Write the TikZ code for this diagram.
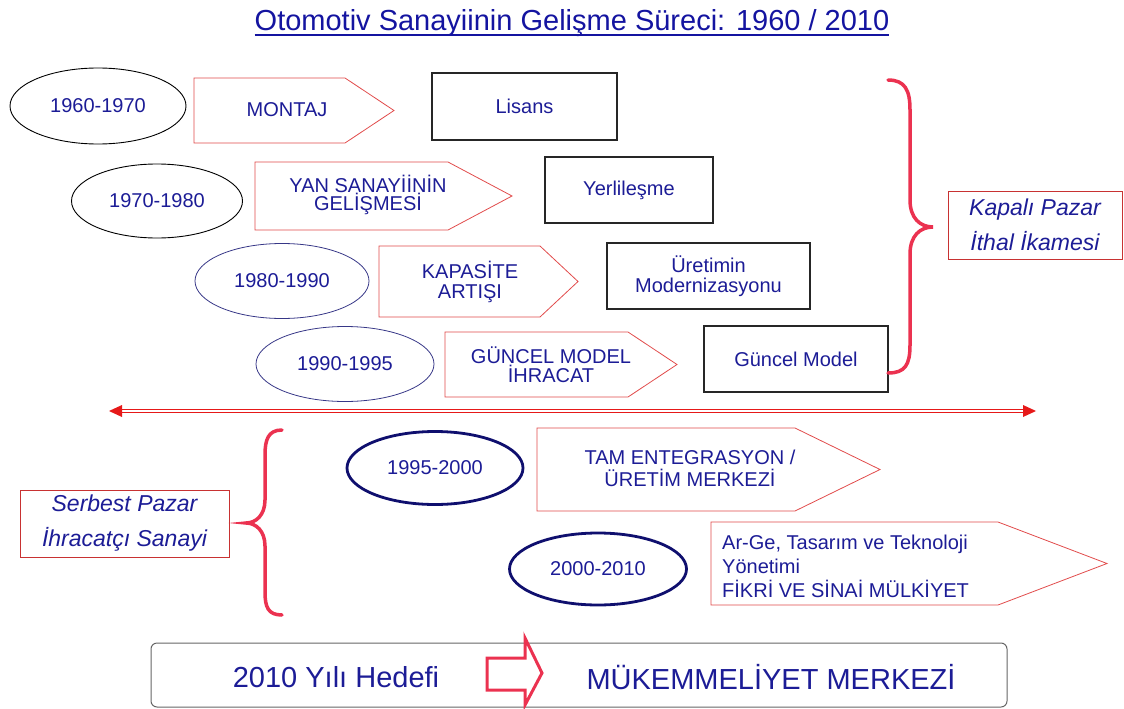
\documentclass[tikz,border=0pt]{standalone}
\usepackage{fontspec}
\setmainfont{Liberation Sans}
\usetikzlibrary{shapes.geometric,arrows.meta}
\definecolor{txtblue}{RGB}{28,28,150}
\definecolor{titleblue}{RGB}{20,20,160}
\definecolor{pentred}{RGB}{225,75,75}
\definecolor{bracered}{RGB}{235,50,80}
\definecolor{boxred}{RGB}{200,50,50}
\definecolor{ellblue}{RGB}{55,55,135}
\definecolor{ellnavy}{RGB}{15,15,110}
\definecolor{arrred}{RGB}{230,25,25}
\newcommand\pentshape[5]{\draw[pent] (#1,#2) -- (#3,#2) -- (#4,{(#2+#5)/2}) -- (#3,#5) -- (#1,#5) -- cycle;}
\begin{document}
\begin{tikzpicture}[x=1pt,y=-1pt,
  lbl/.style={text=txtblue, font=\fontsize{20}{18}\selectfont, align=center, inner sep=0pt},
  ell/.style={ellipse, draw=black, line width=0.9pt, inner sep=0pt, text=txtblue, font=\fontsize{20}{20}\selectfont},
  ellb/.style={ell, draw=ellblue, line width=0.8pt},
  elln/.style={ell, draw=ellnavy, line width=2.8pt},
  blk/.style={draw=black!85, line width=1.2pt, inner sep=0pt, text=txtblue, font=\fontsize{20}{20}\selectfont, align=center},
  redbox/.style={draw=boxred, line width=1pt, inner sep=0pt, text=txtblue, font=\itshape\fontsize{23}{35}\selectfont, align=center},
  pent/.style={draw=pentred, line width=0.8pt, line join=miter},
  brace/.style={draw=bracered, line width=3.5pt, line cap=round},
  dbl/.style={draw=arrred, double=white, double distance=1.6pt, line width=1pt},
  tipsty/.style={arrred, fill=arrred}
]
\useasboundingbox (0,0) rectangle (1124,709);

% title
\node[anchor=base, inner sep=0pt, text=titleblue, font=\fontsize{29}{29}\selectfont] (title) at (572,31) {Otomotiv Sanayiinin Gelişme Süreci: 1960 / 2010};
\draw[titleblue, line width=1.3pt] ([yshift=-4pt]title.base west) -- ([yshift=-4pt]title.base east);

% ellipses
\node[ell, minimum width=176, minimum height=76] (e1) at (98,106) {1960-1970};
\node[ell, minimum width=171, minimum height=74] (e2) at (157,201) {1970-1980};
\node[ellb, minimum width=174, minimum height=75] (e3) at (282,281) {1980-1990};
\node[ellb, minimum width=178, minimum height=75] (e4) at (345,364) {1990-1995};
\node[elln, minimum width=176, minimum height=73] (e5) at (435,468) {1995-2000};
\node[elln, minimum width=177, minimum height=72] (e6) at (598,569) {2000-2010};

% pentagons
\pentshape{194}{78}{345}{394}{143}
\node[lbl] (p1) at (287,110) {MONTAJ};
\pentshape{255}{162}{448}{512}{230}
\node[lbl] (p2) at (368,195) {YAN SANAYİİNİN\\GELİŞMESİ};
\pentshape{379}{246}{540}{578}{317}
\node[lbl, font=\fontsize{20}{20}\selectfont] (p3) at (470,282) {KAPASİTE\\ARTIŞI};
\pentshape{445}{332}{628}{677}{397}
\node[lbl, font=\fontsize{20}{19}\selectfont] (p4) at (551,365) {GÜNCEL MODEL\\İHRACAT};
\pentshape{537}{428}{795}{880}{511}
\node[lbl, font=\fontsize{20}{22}\selectfont] (p5) at (690,468) {TAM ENTEGRASYON /\\ÜRETİM MERKEZİ};
\pentshape{711}{522}{998}{1107}{605}
\node[lbl, align=left, anchor=west, font=\fontsize{20}{24}\selectfont] (p6) at (722,566) {Ar-Ge, Tasarım ve Teknoloji\\Yönetimi\\FİKRİ VE SİNAİ MÜLKİYET};

% black boxes
\node[blk, minimum width=185, minimum height=67] (b1) at (524.5,106.5) {Lisans};
\node[blk, minimum width=168, minimum height=66] (b2) at (629,190) {Yerlileşme};
\node[blk, minimum width=203, minimum height=66, font=\fontsize{20}{20}\selectfont] (b3) at (708.5,276) {Üretimin\\Modernizasyonu};
\node[blk, minimum width=184, minimum height=66] (b4) at (796,359) {Güncel Model};

% braces
\draw[brace] (888,80) .. controls (905,80) and (910,90) .. (910,110) -- (910,200) .. controls (910,218) and (920,227) .. (933,227) .. controls (920,227) and (910,236) .. (910,254) -- (910,345) .. controls (910,365) and (905,373) .. (888,373);
\draw[brace] (282,430) .. controls (268,430) and (265,440) .. (265,455) -- (265,500) .. controls (265,515) and (256,523) .. (246,523) .. controls (256,523) and (265,531) .. (265,546) -- (265,592) .. controls (265,607) and (268,615) .. (282,615);

% red boxes
\node[redbox, minimum width=174, minimum height=68] (kp) at (1035,225) {Kapalı Pazar\\İthal İkamesi};
\node[redbox, minimum width=209, minimum height=67] (sp) at (124.5,523.5) {Serbest Pazar\\İhracatçı Sanayi};

% double arrow
\coordinate (la) at (109,411);
\coordinate (ra) at (1036,411);
\coordinate (la2) at (122,411);
\coordinate (ra2) at (1023,411);
\draw[dbl] (la2) -- (ra2);
\fill[tipsty] (la) -- ([yshift=6pt]la2) -- ([yshift=-6pt]la2) -- cycle;
\fill[tipsty] (ra) -- ([yshift=6pt]ra2) -- ([yshift=-6pt]ra2) -- cycle;

% bottom
\node[draw=black!60, line width=1pt, rounded corners=6pt, minimum width=856, minimum height=64, inner sep=0pt] (goal) at (579,675) {};
\node[lbl, font=\fontsize{29}{29}\selectfont] (g1) at (336,677) {2010 Yılı Hedefi};
\node[lbl, font=\fontsize{29}{29}\selectfont] (g2) at (771,677) {MÜKEMMELİYET MERKEZİ};
\draw[draw=bracered, line width=3pt, line join=miter] (487,658) -- (525,658) -- (525,638) -- (542,673) -- (525,705) -- (525,690) -- (487,690) -- cycle;
\end{tikzpicture}
\end{document}
